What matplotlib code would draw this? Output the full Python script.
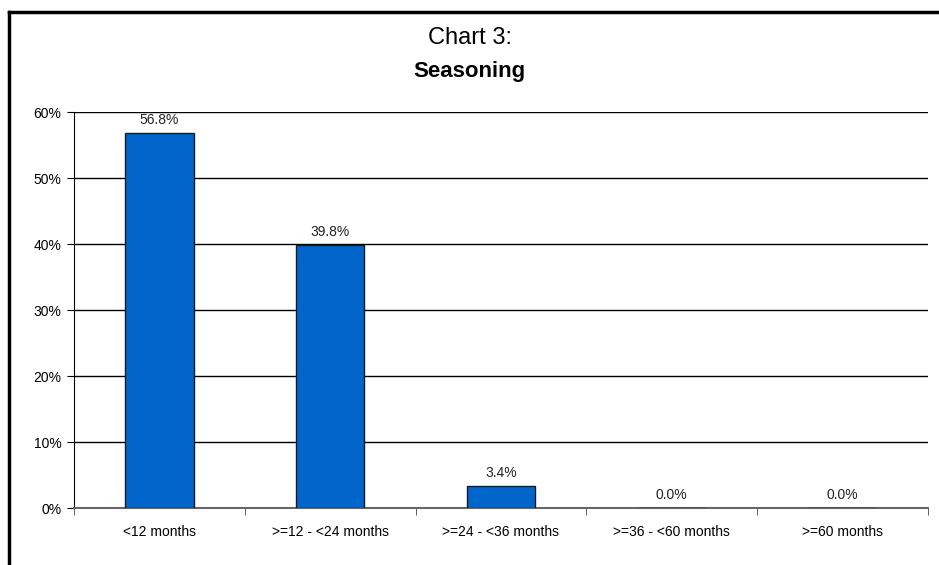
import matplotlib
matplotlib.use("Agg")
import matplotlib.pyplot as plt
from matplotlib.lines import Line2D
from matplotlib.ticker import FuncFormatter, FixedLocator

categories = ["<12 months", ">=12 - <24 months", ">=24 - <36 months",
              ">=36 - <60 months", ">=60 months"]
values = [56.8, 39.8, 3.4, 0.0, 0.0]
yticks = [0, 10, 20, 30, 40, 50, 60]

plt.rcParams['font.family'] = ['Liberation Sans Narrow', 'Liberation Sans', 'DejaVu Sans']

fig = plt.figure(figsize=(9.39, 5.65), dpi=100)
ax = fig.add_axes([74 / 939, 1 - 508 / 565, 854 / 939, 396 / 565])

x = list(range(len(categories)))
ax.bar(x, values, width=0.4, color="#0066CC", edgecolor="#1a1a1a", linewidth=1, zorder=3)

for xi, v in zip(x, values):
    ax.text(xi, v + 0.9, f"{v:.1f}%", ha="center", va="bottom", fontsize=10, color="#222222")

ax.set_xlim(-0.5, len(categories) - 0.5)
ax.set_ylim(0, 60)
ax.set_yticks(yticks)
ax.yaxis.set_major_formatter(FuncFormatter(lambda v, p: f"{v:.0f}%"))
ax.yaxis.grid(True, color="black", linewidth=1)
ax.set_axisbelow(True)

ax.set_xticks(x)
ax.set_xticklabels(categories)
ax.xaxis.set_minor_locator(FixedLocator([i - 0.5 for i in range(len(categories) + 1)]))
ax.tick_params(axis="x", which="major", length=0, pad=12, labelsize=10)
ax.tick_params(axis="x", which="minor", length=5, direction="out", color="#444444")
ax.tick_params(axis="y", length=5, direction="out", labelsize=10, pad=4)

for s in ["top", "right"]:
    ax.spines[s].set_visible(False)
ax.spines["left"].set_color("black")
ax.spines["bottom"].set_color("#666666")
ax.spines["bottom"].set_linewidth(1.5)

fig.text(0.5, 1 - 38 / 565, "Chart 3:", ha="center", va="center", fontsize=17)
fig.text(0.5, 1 - 72 / 565, "Seasoning", ha="center", va="center", fontsize=16, fontweight="bold")

# frame around chart (left and top only visible)
fx = 9 / 939
fy = 1 - 12 / 565
fig.add_artist(Line2D([fx, fx], [0, fy], transform=fig.transFigure, color="black", linewidth=2.5))
fig.add_artist(Line2D([fx, 1], [fy, fy], transform=fig.transFigure, color="black", linewidth=2.5))

fig.savefig("out.png", dpi=100)
